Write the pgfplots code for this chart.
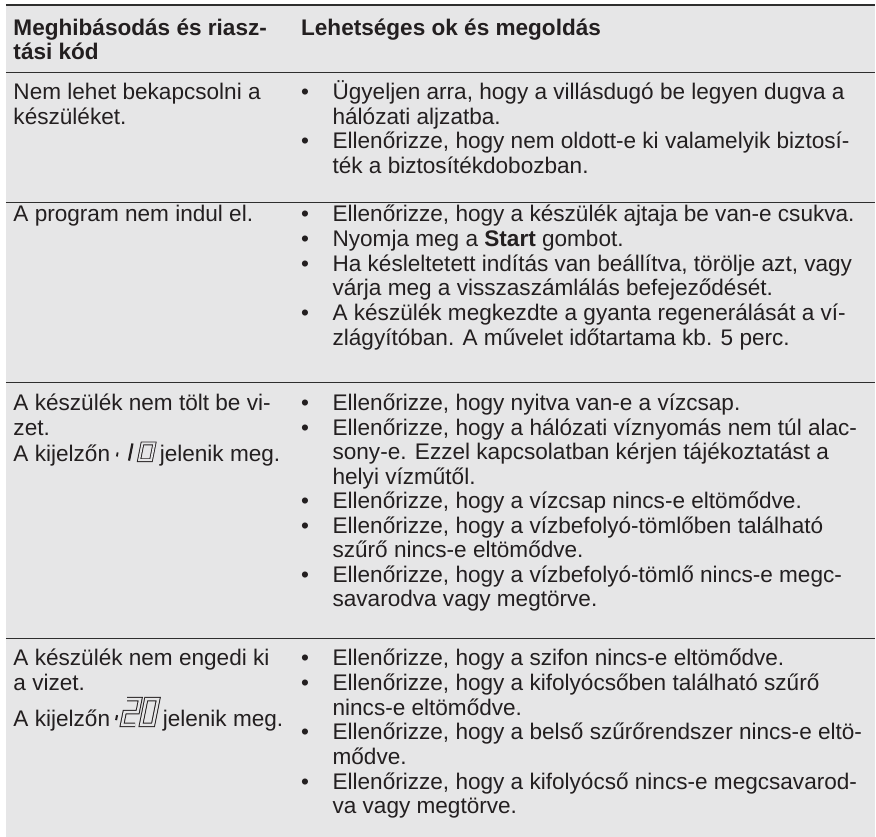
\documentclass[border=0pt]{standalone}
\usepackage{fontspec}
\setmainfont{Liberation Sans}
\usepackage{pgfplots}
\pgfplotsset{compat=1.18}
\definecolor{bg}{HTML}{E6E6E7}
\definecolor{txt}{HTML}{231F20}
\definecolor{rulec}{HTML}{2E2E2E}
\tikzset{tx/.style={anchor=base west, inner sep=0pt, outer sep=0pt, text=txt, font=\fontsize{11.3pt}{13pt}\selectfont}}
\newcommand\Tl[3]{\node[tx] at (axis cs:#1,#2) {#3};}
\newcommand\Bl[2]{\node[tx] at (axis cs:301.5,#1) {•};\node[tx] at (axis cs:333,#1) {#2};}
\newcommand\Cl[2]{\node[tx] at (axis cs:333,#1) {#2};}
\begin{document}
\begin{tikzpicture}
\begin{axis}[scale only axis, width=438pt, height=419pt,
  xmin=0, xmax=876, ymin=0, ymax=838, y dir=reverse,
  hide axis, clip=false]
\fill[white] (axis cs:0,0) rectangle (axis cs:876,838);
\fill[bg] (axis cs:6,4) rectangle (axis cs:876,838);
% rules
\addplot[rulec, line width=1.05pt, forget plot] coordinates {(6,5) (876,5)};
\addplot[rulec, line width=0.85pt, forget plot] coordinates {(6,72.7) (876,72.7)};
\addplot[rulec, line width=0.65pt, forget plot] coordinates {(6,203) (876,203)};
\addplot[rulec, line width=0.65pt, forget plot] coordinates {(6,383) (876,383)};
\addplot[rulec, line width=0.65pt, forget plot] coordinates {(6,639) (876,639)};
% header
\node[tx, font=\fontsize{11.3pt}{13pt}\selectfont\bfseries] at (axis cs:13.5,35.5) {Meghibásodás és riasz-};
\node[tx, font=\fontsize{11.3pt}{13pt}\selectfont\bfseries] at (axis cs:13.5,60) {tási kód};
\node[tx, font=\fontsize{11.3pt}{13pt}\selectfont\bfseries] at (axis cs:301.5,35.5) {Lehetséges ok és megoldás};
% row 1
\Tl{13.5}{100}{Nem lehet bekapcsolni a}
\Tl{13.5}{124.5}{készüléket.}
\Bl{100}{Ügyeljen arra, hogy a villásdugó be legyen dugva a}
\Cl{124.5}{hálózati aljzatba.}
\Bl{149}{Ellenőrizze, hogy nem oldott-e ki valamelyik biztosí-}
\Cl{173.5}{ték a biztosítékdobozban.}
% row 2
\Tl{13.5}{222}{A program nem indul el.}
\Bl{222}{Ellenőrizze, hogy a készülék ajtaja be van-e csukva.}
\Bl{246.7}{Nyomja meg a \textbf{Start} gombot.}
\Bl{271.4}{Ha késleltetett indítás van beállítva, törölje azt, vagy}
\Cl{296.1}{várja meg a visszaszámlálás befejeződését.}
\Bl{320.8}{A készülék megkezdte a gyanta regenerálását a ví-}
\Cl{345.5}{zlágyítóban. A művelet időtartama kb. 5 perc.}
% row 3
\Tl{13.5}{411.5}{A készülék nem tölt be vi-}
\Tl{13.5}{436}{zet.}
\Tl{13.5}{462}{A kijelzőn}
\Tl{160}{462}{jelenik meg.}
\coordinate (dA) at (axis cs:113,462);
\Bl{411.5}{Ellenőrizze, hogy nyitva van-e a vízcsap.}
\Bl{436}{Ellenőrizze, hogy a hálózati víznyomás nem túl alac-}
\Cl{460.5}{sony-e. Ezzel kapcsolatban kérjen tájékoztatást a}
\Cl{485}{helyi vízműtől.}
\Bl{509.5}{Ellenőrizze, hogy a vízcsap nincs-e eltömődve.}
\Bl{534}{Ellenőrizze, hogy a vízbefolyó-tömlőben található}
\Cl{558.5}{szűrő nincs-e eltömődve.}
\Bl{583}{Ellenőrizze, hogy a vízbefolyó-tömlő nincs-e megc-}
\Cl{607.5}{savarodva vagy megtörve.}
% row 4
\Tl{13.5}{666.5}{A készülék nem engedi ki}
\Tl{13.5}{691}{a vizet.}
\Tl{13.5}{727}{A kijelzőn}
\Tl{163}{727}{jelenik meg.}
\coordinate (dB) at (axis cs:112,727);
\Bl{666.5}{Ellenőrizze, hogy a szifon nincs-e eltömődve.}
\Bl{691.2}{Ellenőrizze, hogy a kifolyócsőben található szűrő}
\Cl{715.9}{nincs-e eltömődve.}
\Bl{740.6}{Ellenőrizze, hogy a belső szűrőrendszer nincs-e eltö-}
\Cl{765.3}{mődve.}
\Bl{790}{Ellenőrizze, hogy a kifolyócső nincs-e megcsavarod-}
\Cl{814.7}{va vagy megtörve.}
\end{axis}
% seven-segment display codes
\begin{scope}[shift={(dA)}, x=0.5pt, y=0.5pt, xslant=0.2]
  \draw[txt, line width=0.9pt] (3,5) -- (3,9);
  \draw[txt, line width=1.1pt] (16,0.8) -- (16,18);
  \draw[txt, line width=1.9pt] (26,1.2) -- (38,1.2) -- (38,18) -- (26,18) -- cycle;
  \draw[bg, line width=1.0pt] (26,1.2) -- (38,1.2) -- (38,18) -- (26,18) -- cycle;
\end{scope}
\begin{scope}[shift={(dB)}, x=0.5pt, y=0.5pt, xslant=0.2]
  \draw[txt, line width=1.0pt] (3,6) -- (3,11);
  \draw[txt, line width=2.2pt] (10,27) -- (23,27) -- (23,14) -- (10,14) -- (10,1.2) -- (23,1.2);
  \draw[bg, line width=1.2pt] (10,27) -- (23,27) -- (23,14) -- (10,14) -- (10,1.2) -- (23,1.2);
  \draw[txt, line width=2.2pt] (29,1.2) -- (41,1.2) -- (41,27) -- (29,27) -- cycle;
  \draw[bg, line width=1.2pt] (29,1.2) -- (41,1.2) -- (41,27) -- (29,27) -- cycle;
\end{scope}
\end{tikzpicture}
\end{document}
